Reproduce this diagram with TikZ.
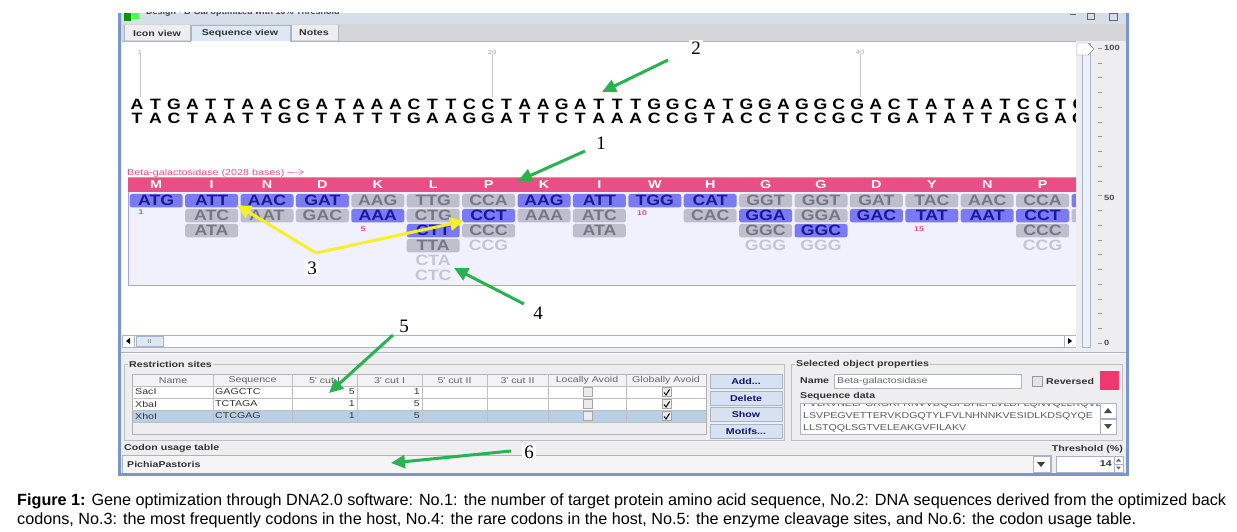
\documentclass[tikz,border=0pt]{standalone}
\usepackage{fontspec}
\setmainfont{Liberation Sans}
\newfontfamily\seqfont[FakeStretch=1.25]{Liberation Sans}
\newfontfamily\seqbig[FakeStretch=1.18]{Liberation Sans}
\newfontfamily\numfont{Liberation Serif}
\usetikzlibrary{arrows.meta,shapes.geometric}
\definecolor{winbg}{RGB}{238,238,240}
\definecolor{frameblue}{RGB}{122,150,206}
\definecolor{titlebg}{RGB}{214,222,234}
\definecolor{tabsel}{RGB}{220,232,246}
\definecolor{cblue}{RGB}{122,122,242}
\definecolor{cbtext}{RGB}{26,26,150}
\definecolor{cgray}{RGB}{190,190,204}
\definecolor{cgtext}{RGB}{118,118,132}
\definecolor{cltext}{RGB}{196,196,210}
\definecolor{pinkbar}{RGB}{232,78,136}
\definecolor{lav}{RGB}{241,241,253}
\definecolor{lavborder}{RGB}{165,165,228}
\definecolor{agreen}{RGB}{40,178,80}
\definecolor{ayellow}{RGB}{245,240,40}
\definecolor{selrow}{RGB}{186,207,230}
\definecolor{btnfill}{RGB}{214,226,242}
\definecolor{pinksq}{RGB}{240,56,110}
\definecolor{uigray}{RGB}{170,180,196}
\definecolor{rulergray}{RGB}{200,200,200}
\tikzset{
  cbox/.style={rounded corners=2.5pt, minimum width=53pt, minimum height=13.5pt, inner sep=0pt,
    text height=10.5pt, text depth=0pt, font=\seqbig\bfseries\fontsize{15}{15}\selectfont},
  cb/.style={cbox, fill=cblue, text=cbtext},
  cg/.style={cbox, fill=cgray, text=cgtext},
  cl/.style={cbox, text=cltext},
  dna/.style={inner sep=0pt, text height=10.5pt, text depth=0pt, font=\seqbig\bfseries\fontsize{15}{15}\selectfont},
  aa/.style={inner sep=0pt, text=white, text height=8pt, text depth=0pt, font=\seqfont\bfseries\fontsize{11.5}{11.5}\selectfont},
  pnum/.style={inner sep=0pt, text=pinkbar, font=\seqfont\bfseries\fontsize{7}{7}\selectfont},
  ann/.style={font=\numfont\fontsize{19}{19}\selectfont, fill=white, inner sep=2pt},
  garrow/.style={draw=agreen, line width=3pt, -{Triangle[length=14pt,width=13pt]}},
  yarrow/.style={draw=ayellow, line width=3pt, -{Triangle[length=14pt,width=13pt]}},
  ui/.style={inner sep=0pt, font=\seqfont\fontsize{8.5}{8.5}\selectfont, text=black!80},
  uib/.style={inner sep=0pt, font=\seqfont\bfseries\fontsize{8.5}{8.5}\selectfont, text=black!80},
  hdr/.style={inner sep=0pt, font=\seqfont\fontsize{8.5}{8.5}\selectfont, text=black!60},
  tabtxt/.style={inner sep=0pt, font=\seqfont\bfseries\fontsize{8.5}{8.5}\selectfont, text=black!80},
  btnstyle/.style={draw=uigray, fill=btnfill, minimum width=72pt, minimum height=14pt, inner sep=0pt,
    font=\seqfont\bfseries\fontsize{8.5}{8.5}\selectfont, text=cbtext!70!black},
  ruler/.style={inner sep=0pt, text=black!35, font=\seqfont\fontsize{6}{6}\selectfont},
}
\begin{document}
\begin{tikzpicture}[x=1pt,y=-1pt]
\useasboundingbox (0,0) rectangle (1237,532);
\fill[white] (0,0) rectangle (1237,532);
% window
\fill[winbg] (118,13) rectangle (1129,476);
\begin{scope}
  \clip (118,13) rectangle (1129,24);
  \fill[titlebg] (118,13) rectangle (1129,24);
  \node[anchor=west, inner sep=0pt, font=\bfseries\fontsize{9}{9}\selectfont, text=black!75] (title) at (146,12.5) {Design - B-Gal optimized with 10\% Threshold};
  \fill[green!60!black] (124,13) rectangle (131,21);
  \fill[green!70] (132,13) rectangle (139,19);
  \draw[black!60] (1070,14) -- (1076,14) (1087,13) rectangle (1094,19) (1109,13) rectangle (1117,20);
\end{scope}
% tabs
\fill[winbg!90!black] (118,24) rectangle (1129,41);
\draw[uigray] (124,25) rectangle (190,41);
\fill[winbg] (124.5,25.5) rectangle (189.5,40.5);
\fill[tabsel] (191,25) rectangle (290,41);
\draw[uigray] (191,41) -- (191,25) -- (290,25) -- (290,41);
\draw[uigray] (291,25) rectangle (338,41);
\fill[winbg] (291.5,25.5) rectangle (337.5,40.5);
\node[tabtxt] (tab1) at (157,33) {Icon view};
\node[tabtxt] (tab2) at (240,33) {Sequence view};
\node[tabtxt] (tab3) at (314,33) {Notes};
% sequence panel
\fill[white] (122,41) rectangle (1076,335);
\draw[uigray] (122,41) -- (191,41) (290,41) -- (1076,41);
\begin{scope}
  \clip (122,41) rectangle (1076,335);
  % ruler
  \node[ruler] (r1) at (140,52) {1};
  \node[ruler] (r20) at (492,52) {20};
  \node[ruler] (r40) at (860,52) {40};
  \draw[rulergray] (r1.south) -- (140,97);
  \draw[rulergray] (r20.south) -- (492,97);
  \draw[rulergray] (r40.south) -- (860,97);
  % DNA
  \foreach \c [count=\k from 0] in {A,T,G,A,T,T,A,A,C,G,A,T,A,A,A,C,T,T,C,C,T,A,A,G,A,T,T,T,G,G,C,A,T,G,G,A,G,G,C,G,A,C,T,A,T,A,A,T,C,C,T,C}
    \node[dna] (s\k) at ({137+18.47*\k},104.5) {\c};
  \foreach \c [count=\k from 0] in {T,A,C,T,A,A,T,T,G,C,T,A,T,T,T,G,A,A,G,G,A,T,T,C,T,A,A,A,C,C,G,T,A,C,C,T,C,C,G,C,T,G,A,T,A,T,T,A,G,G,A,G}
    \node[dna] (a\k) at ({137+18.47*\k},118) {\c};
  % feature
  \node[anchor=west, inner sep=0pt, text=pinkbar, font=\seqfont\fontsize{8.6}{8.6}\selectfont] (feat) at (127,173) {Beta-galactosidase (2028 bases)};
  \coordinate (featend) at (304,172);
  \draw[pinkbar, -{Straight Barb[length=5pt,width=6pt]}] (feat.east) ++(2,-0.5) -- (featend);
  \fill[lav] (128,177) rectangle (1080,285);
  \draw[lavborder] (128,285) -- (128,177) -- (1080,177) (128,285) -- (1080,285);
  \fill[pinkbar] (128,178) rectangle (1080,192);
  \foreach \l [count=\k from 0] in {M,I,N,D,K,L,P,K,I,W,H,G,G,D,Y,N,P,S}
    \node[aa] (aa\k) at ({156.2+55.4*\k},185) {\l};
  \foreach \i/\r/\t/\s in {0/0/ATG/cb,
    1/0/ATT/cb,1/1/ATC/cg,1/2/ATA/cg,
    2/0/AAC/cb,2/1/AAT/cg,
    3/0/GAT/cb,3/1/GAC/cg,
    4/0/AAG/cg,4/1/AAA/cb,
    5/0/TTG/cg,5/1/CTG/cg,5/2/CTT/cb,5/3/TTA/cg,5/4/CTA/cl,5/5/CTC/cl,
    6/0/CCA/cg,6/1/CCT/cb,6/2/CCC/cg,6/3/CCG/cl,
    7/0/AAG/cb,7/1/AAA/cg,
    8/0/ATT/cb,8/1/ATC/cg,8/2/ATA/cg,
    9/0/TGG/cb,
    10/0/CAT/cb,10/1/CAC/cg,
    11/0/GGT/cg,11/1/GGA/cb,11/2/GGC/cg,11/3/GGG/cl,
    12/0/GGT/cg,12/1/GGA/cg,12/2/GGC/cb,12/3/GGG/cl,
    13/0/GAT/cg,13/1/GAC/cb,
    14/0/TAC/cg,14/1/TAT/cb,
    15/0/AAC/cg,15/1/AAT/cb,
    16/0/CCA/cg,16/1/CCT/cb,16/2/CCC/cg,16/3/CCG/cl,
    17/0/{}/cb,17/1/{}/cg}
    \node[\s] (c\i-\r) at ({156.2+55.4*\i},{200.7+15*\r}) {\t};
  \node[pnum] (n1) at (141,212) {1};
  \node[pnum] (n5) at (363,229) {5};
  \node[pnum] (n10) at (642,213) {10};
  \node[pnum] (n15) at (919,229) {15};
\end{scope}
% horizontal scrollbar
\fill[white!90!tabsel] (122,335) rectangle (1076,347);
\draw[uigray] (122,335) rectangle (1076,347);
\draw[uigray, fill=white] (122,335) rectangle (134,347);
\fill[black] (126,341) -- (130,338) -- (130,344) -- cycle;
\draw[uigray, fill=tabsel] (136,336) rectangle (163,346);
\draw[black!40] (148,339) -- (148,343) (150,339) -- (150,343);
\draw[uigray, fill=white] (1064,335) rectangle (1076,347);
\fill[black] (1072,341) -- (1068,338) -- (1068,344) -- cycle;
% slider
\fill[winbg] (1076,41) rectangle (1126,350);
\draw[uigray, fill=tabsel!60!white] (1082,43) rectangle (1090,347);
\draw[black!45, fill=white] (1077,43) -- (1088,43) -- (1094,49) -- (1088,55) -- (1077,55) -- cycle;
\foreach \k in {0,...,20}
  \draw[black!40] (1098,{48+14.75*\k}) -- (1102,{48+14.75*\k});
\node[anchor=west, inner sep=0pt, font=\seqfont\bfseries\fontsize{7.5}{7.5}\selectfont, text=black!70] (s100) at (1104,48) {100};
\node[anchor=west, inner sep=0pt, font=\seqfont\bfseries\fontsize{7.5}{7.5}\selectfont, text=black!70] (s50) at (1104,198) {50};
\node[anchor=west, inner sep=0pt, font=\seqfont\bfseries\fontsize{7.5}{7.5}\selectfont, text=black!70] (s0) at (1104,343) {0};
% splitter
\draw[uigray] (118,352) -- (1129,352);
\draw[white] (118,353) -- (1129,353);
% restriction sites group
\draw[black!25] (124,364) rectangle (784,440);
\node[uib, anchor=west, fill=winbg, inner xsep=1pt] (rs) at (128,364) {Restriction sites};
\fill[white] (132,374) rectangle (706,422);
\fill[winbg!70!white] (132,374) rectangle (706,386);
\fill[selrow] (132,410) rectangle (706,422);
\draw[black!30] (132,374) rectangle (706,434);
\foreach \xx in {213,292,357,422,487,548,626}
  \draw[black!25] (\xx,374) -- (\xx,422);
\foreach \yy in {386,398,410,422}
  \draw[black!25] (132,\yy) -- (706,\yy);
\node[hdr] (h1) at (173,380.5) {Name};
\node[hdr] (h2) at (252.5,380.5) {Sequence};
\node[hdr] (h3) at (324.5,380.5) {5' cut I};
\node[hdr] (h4) at (389.5,380.5) {3' cut I};
\node[hdr] (h5) at (454.5,380.5) {5' cut II};
\node[hdr] (h6) at (517.5,380.5) {3' cut II};
\node[hdr] (h7) at (587,380.5) {Locally Avoid};
\node[hdr] (h8) at (666,380.5) {Globally Avoid};
\foreach \yy/\nm/\sq/\fa/\fb [count=\q] in {392/SacI/GAGCTC/5/1, 404/XbaI/TCTAGA/1/5, 416/XhoI/CTCGAG/1/5}{
  \node[ui, anchor=west] (nm\q) at (135,\yy) {\nm};
  \node[ui, anchor=west] (sq\q) at (215,\yy) {\sq};
  \node[ui, anchor=east] (fa\q) at (355,\yy) {\fa};
  \node[ui, anchor=east] (fb\q) at (420,\yy) {\fb};
  \draw[black!35, fill=white!92!black] (583,\yy-4.5) rectangle (592,\yy+4.5);
  \draw[black!35, fill=white!92!black] (662,\yy-4.5) rectangle (671,\yy+4.5);
  \draw[black, line width=1pt] (664,\yy+0.5) -- (666,\yy+3) -- (669.5,\yy-2.5);
}
% buttons
\node[btnstyle] (add) at (746,381) {Add...};
\node[btnstyle] (del) at (746,398) {Delete};
\node[btnstyle] (show) at (746,414) {Show};
\node[btnstyle] (motif) at (746,431) {Motifs...};
% selected object properties
\draw[black!25] (791,364) rectangle (1122,440);
\node[uib, anchor=west, fill=winbg, inner xsep=1pt] (sop) at (795,364) {Selected object properties};
\node[uib, anchor=west] (nmlab) at (800,380.5) {Name};
\draw[uigray, fill=white] (834,374) rectangle (1021,388);
\node[ui, anchor=west, text=black!60] (nmval) at (837,381) {Beta-galactosidase};
\draw[black!40, fill=white!90!black] (1032,376) rectangle (1042,386);
\node[uib, anchor=west] (rev) at (1046,381.5) {Reversed};
\fill[pinksq] (1100,371) rectangle (1119,390);
\node[uib, anchor=west] (sdlab) at (800,396.5) {Sequence data};
\draw[uigray, fill=white] (800,403) rectangle (1116,434);
\begin{scope}
  \clip (801,404) rectangle (1099,433);
  \node[ui, anchor=west, text=black!65] (sd0) at (803,404) {FVLRVNELPGRGRFRNVVDQGFDHLFLVLDFLQNVQLLRQVELFL};
  \node[ui, anchor=west, text=black!65] (sd1) at (803,416) {LSVPEGVETTERVKDGQTYLFVLNHNNKVESIDLKDSQYQE};
  \node[ui, anchor=west, text=black!65] (sd2) at (803,428) {LLSTQQLSGTVELEAKGVFILAKV};
\end{scope}
\draw[uigray, fill=white] (1100,403) rectangle (1116,418);
\draw[uigray, fill=white] (1100,419) rectangle (1116,434);
\fill[black!70] (1104,413) -- (1112,413) -- (1108,408) -- cycle;
\fill[black!70] (1104,424) -- (1112,424) -- (1108,429) -- cycle;
% codon usage
\node[uib, anchor=west] (cut) at (124,448.5) {Codon usage table};
\node[uib, anchor=east] (thr) at (1123,449) {Threshold (\%)};
\draw[uigray, fill=winbg!60!white] (122,455) rectangle (1051,473);
\node[uib, anchor=west] (pp) at (127,464) {PichiaPastoris};
\draw[uigray, fill=white] (1033,456) rectangle (1050,472);
\fill[black!75] (1037,462) -- (1045,462) -- (1041,467) -- cycle;
\draw[uigray, fill=white] (1056,456) rectangle (1123,472);
\node[uib, anchor=east] (thv) at (1112,464) {14};
\draw[uigray] (1114,456) -- (1114,472) (1114,464) -- (1123,464);
\fill[black!60] (1116,461.5) -- (1121,461.5) -- (1118.5,458.5) -- cycle;
\fill[black!60] (1116,466.5) -- (1121,466.5) -- (1118.5,469.5) -- cycle;
% window frame
\draw[frameblue, line width=3pt] (119.5,13) -- (119.5,474.5) -- (1127.5,474.5) -- (1127.5,13);
% annotations
\node[ann] (L2) at (696,48) {2};
\node[ann] (L1) at (601,143) {1};
\node[ann] (L3) at (312,268) {3};
\node[ann] (L4) at (538,313) {4};
\node[ann] (L5) at (404,326) {5};
\node[ann] (L6) at (529,452) {6};
\coordinate (T2) at (602,92);
\coordinate (T1) at (518,181);
\coordinate (T3a) at (237,205);
\coordinate (T3b) at (464,221);
\coordinate (T3o) at (316,253);
\coordinate (T4) at (454,268);
\coordinate (T5) at (329,393);
\coordinate (T6) at (391,463);
\draw[garrow] (668,60) -- (T2);
\draw[garrow] (585,151) -- (T1);
\draw[yarrow] (T3o) -- (T3a);
\draw[yarrow] (T3o) -- (T3b);
\draw[garrow] (524,304) -- (T4);
\draw[garrow] (393,335) -- (T5);
\draw[garrow] (511,451) -- (T6);
% caption
\node[anchor=west, inner sep=0pt, font=\fontsize{16.2}{16.2}\selectfont] (cap1) at (17,501) {\textbf{Figure 1:} Gene optimization through DNA2.0 software: No.1: the number of target protein amino acid sequence, No.2: DNA sequences derived from the optimized back};
\node[anchor=west, inner sep=0pt, font=\fontsize{16.2}{16.2}\selectfont] (cap2) at (17,520) {codons, No.3: the most frequently codons in the host, No.4: the rare codons in the host, No.5: the enzyme cleavage sites, and No.6: the codon usage table.};
\end{tikzpicture}
\end{document}
